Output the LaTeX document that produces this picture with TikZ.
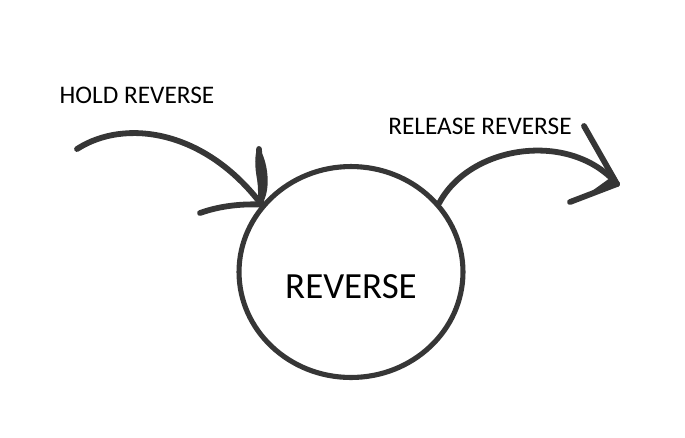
\documentclass[tikz,border=0pt]{standalone}
\usepackage{fontspec}
\setmainfont{Carlito}
\usetikzlibrary{shapes.geometric, positioning}
\definecolor{xink}{HTML}{363636}
\tikzset{
  stroke/.style = {xink, line width=3.3pt, line cap=round, line join=round},
  statebox/.style = {ellipse, draw=xink, line width=2.9pt, minimum width=4.48cm, minimum height=4.22cm, inner sep=0pt, text height=1.04cm, text depth=0pt, font=\fontsize{21}{25}\selectfont},
  eventlabel/.style = {inner sep=0pt, font=\fontsize{14.4}{17}\selectfont, text=black},
}

\begin{document}
\begin{tikzpicture}[x=0.02cm, y=-0.02cm]
  \useasboundingbox (0,0) rectangle (685,437);

  \node[statebox] (rev) at (351,272) {REVERSE};
  \node[eventlabel] (hold) at (137,95) {HOLD REVERSE};
  \node[eventlabel] (release) at (480,126) {RELEASE REVERSE};

  \coordinate (holdstart) at (77,149);
  \coordinate (releaseend) at (617,184);

  % hold: into the state
  \draw[stroke] (holdstart) .. controls (125,118) and (205,130) .. (rev.143);
  \draw[stroke] (259,149) -- (rev.143);
  \fill[xink] (258,146) .. controls (250,165) and (262,195) .. (rev.143) .. controls (272,190) and (268,160) .. cycle;
  \draw[stroke] (200,213) .. controls (225,204) and (250,204) .. (rev.143);

  % release: out of the state
  \draw[stroke] (rev.38) .. controls (470,145) and (570,130) .. (releaseend);
  \draw[stroke] (584,126) -- (releaseend);
  \draw[stroke] (570,202) -- (releaseend);
  \fill[xink] (585,196) -- (releaseend) -- (610,178) -- cycle;
\end{tikzpicture}
\end{document}
